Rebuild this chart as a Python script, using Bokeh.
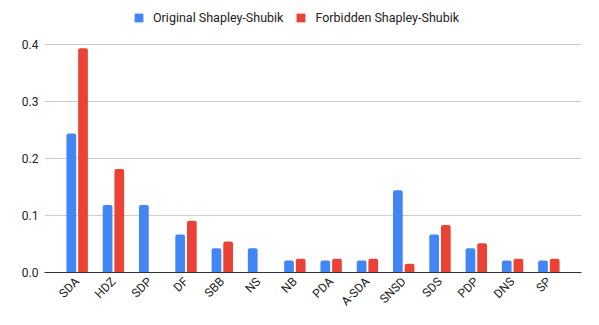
import math
from bokeh.plotting import figure
from bokeh.models import (ColumnDataSource, FactorRange, Legend, LegendItem,
                          FixedTicker, PrintfTickFormatter, Range1d)
from bokeh.transform import dodge
from bokeh.embed import file_html
from bokeh.resources import INLINE

categories = ["SDA", "HDZ", "SDP", "DF", "SBB", "NS", "NB", "PDA", "A-SDA",
              "SNSD", "SDS", "PDP", "DNS", "SP"]
original = [0.2444, 0.1185, 0.1185, 0.0667, 0.0426, 0.0426, 0.0213, 0.0213,
            0.0213, 0.1444, 0.0667, 0.0426, 0.0213, 0.0213]
forbidden = [0.3939, 0.1818, 0.0, 0.0909, 0.0545, 0.0, 0.0242, 0.0242,
             0.0242, 0.0152, 0.0833, 0.0515, 0.0242, 0.0242]
series_names = ["Original Shapley-Shubik", "Forbidden Shapley-Shubik"]
y_ticks = [0.0, 0.1, 0.2, 0.3, 0.4]

BLUE = "#4285F4"
RED = "#EA4335"
FONT = "Roboto"

src = ColumnDataSource(dict(cat=categories, orig=original, forb=forbidden))

FRAME_H = 272
# 0.4 spans 227.6 px in the reference; frame extends up to hold the legend
y_end = FRAME_H * 0.4 / 227.6

xr = FactorRange(factors=categories, range_padding=0.4,
                 range_padding_units="absolute")
p = figure(x_range=xr, y_range=Range1d(0, y_end), frame_width=537,
           frame_height=FRAME_H,
           min_border_left=44, min_border_right=18, min_border_top=0,
           min_border_bottom=53, output_backend="svg", toolbar_location=None,
           background_fill_color="white", border_fill_color="white")
p.outline_line_color = None

r1 = p.vbar(x=dodge("cat", -0.161, range=p.x_range), top="orig", width=0.268,
            source=src, fill_color=BLUE, line_color=None,
            border_radius=(2, 2, 0, 0))
r2 = p.vbar(x=dodge("cat", 0.161, range=p.x_range), top="forb", width=0.268,
            source=src, fill_color=RED, line_color=None,
            border_radius=(2, 2, 0, 0))

# axes
p.xaxis.axis_line_color = "#333333"
p.xaxis.axis_line_width = 1
p.xaxis.major_tick_line_color = None
p.xaxis.minor_tick_line_color = None
p.xaxis.major_tick_out = 0
p.xaxis.major_tick_in = 0
p.xaxis.major_label_orientation = math.pi / 4
p.xaxis.major_label_text_font = FONT
p.xaxis.major_label_text_font_size = "12px"
p.xaxis.major_label_text_color = "#222222"
p.xaxis.major_label_standoff = 7

p.yaxis.axis_line_color = None
p.yaxis.major_tick_line_color = None
p.yaxis.minor_tick_line_color = None
p.yaxis.major_tick_out = 0
p.yaxis.major_tick_in = 0
p.yaxis.ticker = FixedTicker(ticks=y_ticks)
p.yaxis.formatter = PrintfTickFormatter(format="%.1f")
p.yaxis.major_label_text_font = FONT
p.yaxis.major_label_text_font_size = "12px"
p.yaxis.major_label_text_color = "#222222"
p.yaxis.major_label_standoff = 6

p.xgrid.grid_line_color = None
p.ygrid.ticker = FixedTicker(ticks=y_ticks[1:])
p.ygrid.grid_line_color = "#cccccc"
p.ygrid.grid_line_width = 1

legend = Legend(items=[LegendItem(label=series_names[0], renderers=[r1]),
                       LegendItem(label=series_names[1], renderers=[r2])],
                orientation="horizontal", location=(89, 247),
                glyph_width=11, glyph_height=11, label_standoff=9, spacing=12,
                padding=0, margin=0, border_line_color=None,
                background_fill_alpha=0,
                label_text_font=FONT, label_text_font_size="12.5px",
                label_text_color="#222222")
p.add_layout(legend)

open("out.html", "w").write(file_html(p, INLINE))
